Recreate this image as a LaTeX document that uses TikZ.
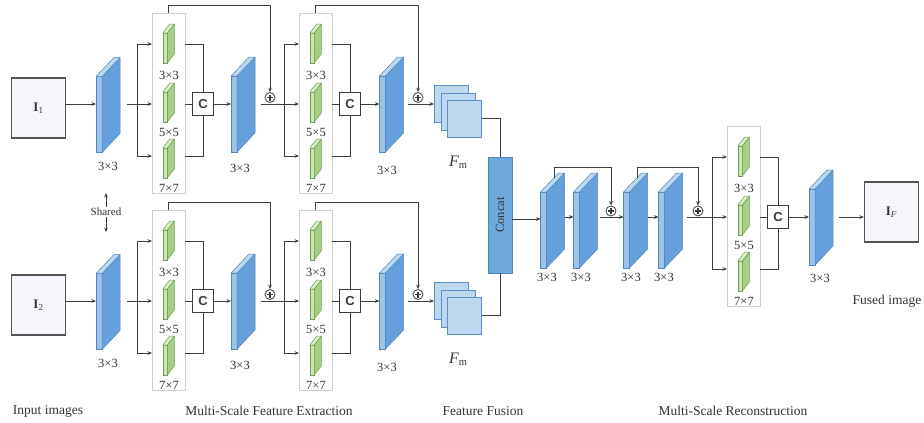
\documentclass[tikz,border=0pt]{standalone}
\usepackage{fontspec}
\setmainfont{Liberation Serif}
\newfontfamily\sansfnt{Liberation Sans}
\usetikzlibrary{arrows.meta,calc}
\definecolor{linec}{HTML}{3C3C3C}
\definecolor{bfront}{HTML}{9DC3E6}
\definecolor{bside}{HTML}{65A0DD}
\definecolor{btop}{HTML}{BDD7EE}
\definecolor{bedge}{HTML}{4F86C0}
\definecolor{gfront}{HTML}{CDE5B5}
\definecolor{gside}{HTML}{A5CF86}
\definecolor{gtop}{HTML}{DCEFCB}
\definecolor{gedge}{HTML}{6E9E50}
\definecolor{fmfill}{HTML}{BDD7EE}
\definecolor{fmedge}{HTML}{5B8FC7}
\definecolor{catfill}{HTML}{6FA8DC}
\definecolor{txt}{HTML}{333333}
\definecolor{msedge}{HTML}{CFCFCF}
\definecolor{imgedge}{HTML}{555555}
\definecolor{imgtint}{HTML}{F5F6FC}
\tikzset{
  line/.style={draw=linec, line width=0.8pt},
  arr/.style={line, -{Stealth[length=4.5pt,width=3.6pt]}},
  cfront/.style={draw=bedge, fill=bfront, line width=0.5pt, minimum width=6pt, minimum height=76pt, inner sep=0pt, outer sep=0pt},
  cside/.style={draw=bedge, fill=bside, line width=0.5pt, line join=round},
  ctop/.style={draw=bedge, fill=btop, line width=0.5pt, line join=round},
  gfrontst/.style={draw=gedge, fill=gfront, line width=0.5pt, minimum width=4.5pt, minimum height=30pt, inner sep=0pt, outer sep=0pt},
  gsidest/.style={draw=gedge, fill=gside, line width=0.5pt, line join=round},
  gtopst/.style={draw=gedge, fill=gtop, line width=0.5pt, line join=round},
  msbox/.style={draw=msedge, line width=0.9pt, fill=white, minimum width=33pt, minimum height=180pt, inner sep=0pt, outer sep=0pt},
  cbox/.style={draw=linec, line width=0.8pt, fill=white, minimum width=21pt, minimum height=23pt, inner sep=0pt, font=\sansfnt\bfseries\fontsize{13}{13}\selectfont, text=linec},
  lbl/.style={text=txt, font=\fontsize{12.5}{13}\selectfont, inner sep=0pt},
  biglbl/.style={text=txt, font=\fontsize{13.5}{14}\selectfont, inner sep=0pt},
  imgbox/.style={draw=imgedge, line width=1.1pt, minimum width=54pt, minimum height=60pt, inner sep=0pt,
    fill=imgtint, font=\fontsize{13}{13}\selectfont, text=txt},
  fmsq/.style={draw=fmedge, fill=fmfill, line width=0.7pt, minimum width=34pt, minimum height=37pt, inner sep=0pt},
  catst/.style={draw=bedge, fill=catfill, line width=0.7pt, minimum width=24pt, minimum height=116pt, inner sep=0pt, font=\fontsize{12.5}{13}\selectfont, text=txt},
  sum/.style={circle, draw=linec, fill=white, line width=0.8pt, minimum size=10pt, inner sep=0pt,
    path picture={\draw[linec, line width=1.1pt] ([xshift=-3pt]path picture bounding box.center) -- ([xshift=3pt]path picture bounding box.center);
                  \draw[linec, line width=1.1pt] ([yshift=-3pt]path picture bounding box.center) -- ([yshift=3pt]path picture bounding box.center);}},
}
% conv slab: name, x, y of front face centre
\newcommand\convslab[3]{%
  \node[cfront] (#1) at ({#2},{#3}) {};
  \filldraw[cside] (#1.north east) -- ++(18,-19) -- ++(0,76) -- (#1.south east) -- cycle;
  \filldraw[ctop] (#1.north west) -- ++(18,-19) -- ++(6,0) -- (#1.north east) -- cycle;
}
% green slab
\newcommand\gslab[3]{%
  \node[gfrontst] (#1) at ({#2},{#3}) {};
  \filldraw[gsidest] (#1.north east) -- ++(7,-9) -- ++(0,30) -- (#1.south east) -- cycle;
  \filldraw[gtopst] (#1.north west) -- ++(7,-9) -- ++(4.5,0) -- (#1.north east) -- cycle;
}
% multi-scale block: prefix, left, top
\newcommand\msblock[3]{%
  \node[msbox, anchor=north west] (#1-box) at ({#2},{#3}) {};
  \gslab{#1-g1}{#2+13}{#3+35}
  \gslab{#1-g2}{#2+13}{#3+94}
  \gslab{#1-g3}{#2+13}{#3+150}
  \node[lbl] (#1-l1) at ({#2+17},{#3+62}) {3×3};
  \node[lbl] (#1-l2) at ({#2+17},{#3+119}) {5×5};
  \node[lbl] (#1-l3) at ({#2+17},{#3+175}) {7×7};
  \node[cbox] (#1-c) at ({#2+51},{#3+91}) {C};
  \coordinate (#1-br) at ({#2-15},{#3+91});
  \draw[arr] (#1-br) |- ([yshift=-31pt]#1-box.north west);
  \draw[arr] (#1-br) |- ([yshift=-143pt]#1-box.north west);
  \draw[arr] (#1-br) -- ([yshift=-91pt]#1-box.north west);
  \draw[line] ([yshift=-31pt]#1-box.north east) -| (#1-c.north);
  \draw[line] ([yshift=-143pt]#1-box.north east) -| (#1-c.south);
  \draw[line] ([yshift=-91pt]#1-box.north east) -- (#1-c.west);
}
% encoder row: suffix, vertical offset, image label
\newcommand\encrow[3]{%
  \coordinate (m#1) at (0,{104+#2});
  \node[imgbox] (i#1) at (38.5,{108+#2}) {#3};
  \convslab{ca#1}{99}{114.5+#2}
  \node[lbl] (lca#1) at (108,{166+#2}) {3×3};
  \draw[arr] (i#1.east |- m#1) -- (ca#1.west |- m#1);
  \msblock{ba#1}{152}{13+#2}
  \draw[line] ([xshift=25pt]ca#1.east |- m#1) -- (ba#1-br);
  \convslab{cb#1}{234}{114+#2}
  \node[lbl] (lcb#1) at (240,{168+#2}) {3×3};
  \draw[arr] (ba#1-c.east) -- (cb#1.west |- ba#1-c);
  \node[sum] (sa#1) at (270,{97.5+#2}) {};
  \draw[arr] (ba#1-box.north) -- ++(0,-8) -| (sa#1.north);
  \msblock{bb#1}{299}{13+#2}
  \draw[line] ([xshift=24pt]cb#1.east |- m#1) -- (bb#1-br);
  \convslab{cc#1}{382.5}{114+#2}
  \node[lbl] (lcc#1) at (387,{170+#2}) {3×3};
  \draw[arr] (bb#1-c.east) -- (cc#1.west |- bb#1-c);
  \node[sum] (sb#1) at (418,{97.5+#2}) {};
  \draw[arr] (bb#1-box.north) -- ++(0,-8) -| (sb#1.north);
  \node[fmsq, anchor=north west] (fa#1) at (434,{85+#2}) {};
  \node[fmsq, anchor=north west] (fb#1) at (440.5,{92.5+#2}) {};
  \node[fmsq, anchor=north west] (fc#1) at (447,{100+#2}) {};
  \draw[arr] ([xshift=22pt]cc#1.east |- m#1) -- (fa#1.west |- m#1);
  \node[text=txt, inner sep=0pt] (fm#1) at (458,{162+#2}) {{\fontsize{16}{16}\selectfont\itshape F}\raisebox{-2pt}{\fontsize{10.5}{10.5}\selectfont m}};
}
\begin{document}
\begin{tikzpicture}[x=1pt,y=-1pt]
\useasboundingbox (0,0) rectangle (924,423);
\fill[white] (0,0) rectangle (924,423);

\encrow{1}{0}{\textbf{I}\textsubscript{1}}
\encrow{2}{197}{\textbf{I}\textsubscript{2}}

% shared
\node[text=txt, font=\fontsize{11}{11}\selectfont, inner sep=1pt] (shared) at (106,212) {Shared};
\coordinate (shu) at (106,193);
\coordinate (shd) at (106,232);
\draw[arr] (shared.north) -- (shu);
\draw[arr] (shared.south) -- (shd);

% fusion
\node[catst] (cat) at (500,215) {\rotatebox{90}{Concat}};
\draw[line] (fc1.east) -| (cat.north);
\draw[line] (fc2.east) -| (cat.south);

% reconstruction
\coordinate (rowC) at (0,219);
\coordinate (rowR) at (0,217);
\convslab{r1}{543.5}{230}
\convslab{r2}{576.5}{230}
\convslab{r3}{626.5}{230}
\convslab{r4}{661.5}{230}
\node[lbl] (lr1) at (547,277) {3×3};
\node[lbl] (lr2) at (581,277) {3×3};
\node[lbl] (lr3) at (631,277) {3×3};
\node[lbl] (lr4) at (664,277) {3×3};
\draw[arr] (cat.east |- rowC) -- (r1.west |- rowC);
\draw[arr] ([xshift=18pt]r1.east |- rowR) -- (r2.west |- rowR);
\node[sum] (rs1) at (611,211) {};
\draw[arr] ([xshift=20pt]r2.east |- rowR) -- (r3.west |- rowR);
\draw[arr] ([xshift=18pt]r3.east |- rowR) -- (r4.west |- rowR);
\node[sum] (rs2) at (698,211) {};
\coordinate (r1t) at (554,178);
\coordinate (r3t) at (637,178);
\draw[arr] (r1t) -- ++(0,-11) -| (rs1.north);
\draw[arr] (r3t) -- ++(0,-11) -| (rs2.north);
\msblock{b3}{727}{126}
\draw[line] ([xshift=22pt]r4.east |- rowR) -- (b3-br);
\convslab{rf}{812}{227}
\node[lbl] (lrf) at (820,278) {3×3};
\draw[arr] (b3-c.east) -- (rf.west |- b3-c);
\node[imgbox] (iF) at (891.5,212) {\textbf{I}\textsubscript{\textit{F}}};
\draw[arr] ([xshift=24pt]rf.east |- rowR) -- (iF.west |- rowR);
\node[biglbl] (fused) at (887,301) {Fused image};

% section labels
\node[biglbl] (t1) at (48,411) {Input images};
\node[biglbl] (t2) at (269,411) {Multi-Scale Feature Extraction};
\node[biglbl] (t3) at (483,411) {Feature Fusion};
\node[biglbl] (t4) at (733,411) {Multi-Scale Reconstruction};
\end{tikzpicture}
\end{document}
